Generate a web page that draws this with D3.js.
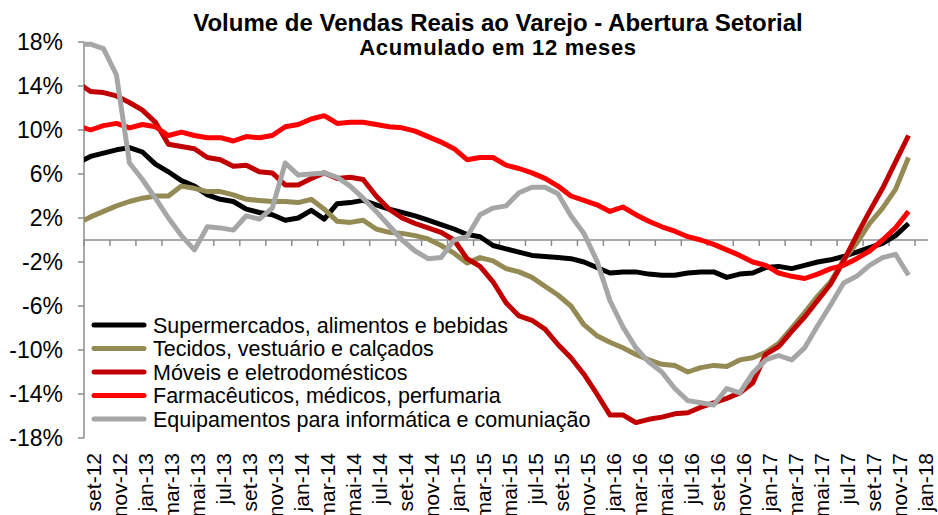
<!DOCTYPE html>
<html>
<head>
<meta charset="utf-8">
<script src="https://cdn.jsdelivr.net/npm/d3@7"></script>
<style>
  body { margin: 0; background: #fff; }
  text { font-family: "Liberation Sans", Arial, sans-serif; fill: #000; }
</style>
</head>
<body>
<div id="chart"></div>
<script>
// Months of the series: ago-12 sits just left of the axis (clipped), then set-12 .. dez-17
const months = [
    'ago-12', 'set-12', 'out-12', 'nov-12', 'dez-12',
    'jan-13', 'fev-13', 'mar-13', 'abr-13', 'mai-13', 'jun-13', 'jul-13', 'ago-13', 'set-13', 'out-13', 'nov-13', 'dez-13',
    'jan-14', 'fev-14', 'mar-14', 'abr-14', 'mai-14', 'jun-14', 'jul-14', 'ago-14', 'set-14', 'out-14', 'nov-14', 'dez-14',
    'jan-15', 'fev-15', 'mar-15', 'abr-15', 'mai-15', 'jun-15', 'jul-15', 'ago-15', 'set-15', 'out-15', 'nov-15', 'dez-15',
    'jan-16', 'fev-16', 'mar-16', 'abr-16', 'mai-16', 'jun-16', 'jul-16', 'ago-16', 'set-16', 'out-16', 'nov-16', 'dez-16',
    'jan-17', 'fev-17', 'mar-17', 'abr-17', 'mai-17', 'jun-17', 'jul-17', 'ago-17', 'set-17', 'out-17', 'nov-17', 'dez-17'
];

// Axis labels, one every two months (set-12 .. jan-18)
const tickLabels = [
    'set-12', 'nov-12', 'jan-13', 'mar-13', 'mai-13', 'jul-13', 'set-13', 'nov-13',
    'jan-14', 'mar-14', 'mai-14', 'jul-14', 'set-14', 'nov-14', 'jan-15', 'mar-15',
    'mai-15', 'jul-15', 'set-15', 'nov-15', 'jan-16', 'mar-16', 'mai-16', 'jul-16',
    'set-16', 'nov-16', 'jan-17', 'mar-17', 'mai-17', 'jul-17', 'set-17', 'nov-17', 'jan-18'
];

const yTicks = [18, 14, 10, 6, 2, -2, -6, -10, -14, -18];

// Series values, % accumulated in 12 months
const supermercados = [7.0, 7.6, 7.9, 8.2, 8.4, 8.0, 6.9, 6.2, 5.4, 4.9, 4.1, 3.7, 3.5, 2.8, 2.5, 2.3,
    1.8, 2.0, 2.7, 1.9, 3.3, 3.4, 3.6, 3.2, 2.8, 2.5, 2.2, 1.8, 1.4, 1.0, 0.5, 0.3, -0.5, -0.8, -1.1, -1.4,
    -1.5, -1.6, -1.7, -2.0, -2.5, -3.0, -2.9, -2.9, -3.1, -3.2, -3.2, -3.0, -2.9, -2.9, -3.4, -3.1, -3.0,
    -2.5, -2.4, -2.6, -2.3, -2.0, -1.8, -1.5, -1.1, -0.7, -0.3, 0.4, 1.5];

const tecidos = [1.5, 2.1, 2.6, 3.1, 3.5, 3.8, 4.0, 4.0, 4.9, 4.7, 4.4, 4.4, 4.1, 3.7, 3.6, 3.5, 3.5,
    3.4, 3.7, 2.8, 1.7, 1.6, 1.8, 1.0, 0.7, 0.6, 0.4, 0.1, -0.5, -1.2, -2.1, -1.6, -1.9, -2.6, -2.9, -3.4,
    -4.2, -5.0, -6.0, -7.7, -8.7, -9.3, -9.8, -10.4, -10.9, -11.3, -11.4, -12.0, -11.6, -11.4, -11.5, -10.9,
    -10.7, -10.2, -9.4, -8.0, -6.6, -5.1, -3.8, -1.8, -0.3, 1.5, 2.9, 4.6, 7.5];

const moveis = [14.3, 13.5, 13.4, 13.1, 12.5, 11.8, 10.7, 8.7, 8.5, 8.3, 7.5, 7.3, 6.7, 6.8, 6.2, 6.1,
    5.0, 5.0, 5.6, 6.1, 5.6, 5.7, 5.5, 4.0, 2.8, 2.0, 1.5, 1.1, 0.7, 0.0, -1.7, -2.4, -3.8, -5.7, -6.9,
    -7.3, -8.1, -9.5, -10.7, -12.2, -14.0, -15.9, -15.9, -16.6, -16.3, -16.1, -15.8, -15.7, -15.2, -14.8,
    -14.4, -13.9, -13.0, -10.4, -9.7, -8.3, -7.0, -5.5, -4.0, -1.9, 0.4, 2.6, 4.7, 7.1, 9.5];

const farmaceuticos = [10.4, 10.0, 10.4, 10.6, 10.2, 10.5, 10.3, 9.5, 9.8, 9.5, 9.3, 9.3, 9.0, 9.4, 9.3,
    9.5, 10.3, 10.5, 11.0, 11.3, 10.6, 10.7, 10.7, 10.5, 10.3, 10.2, 9.9, 9.4, 8.9, 8.3, 7.3, 7.5, 7.5,
    6.8, 6.5, 6.1, 5.6, 4.9, 4.0, 3.6, 3.2, 2.6, 3.0, 2.3, 1.7, 1.2, 0.8, 0.3, 0.0, -0.4, -0.9, -1.4,
    -2.0, -2.3, -3.0, -3.3, -3.5, -3.1, -2.6, -2.3, -1.7, -1.0, 0.0, 1.1, 2.6];

const equipamentos = [17.8, 17.8, 17.4, 15.0, 7.0, 5.5, 3.8, 2.0, 0.4, -0.9, 1.2, 1.1, 0.9, 2.2, 1.9,
    2.9, 7.0, 5.9, 6.0, 6.1, 5.7, 4.9, 3.8, 2.6, 1.3, 0.0, -1.0, -1.7, -1.6, 0.0, 0.3, 2.3, 2.9, 3.1, 4.3,
    4.8, 4.8, 4.2, 2.2, 0.6, -1.9, -5.5, -7.9, -9.8, -11.1, -12.0, -13.5, -14.6, -14.8, -15.0, -13.5,
    -13.9, -12.1, -10.9, -10.5, -10.9, -9.8, -7.8, -5.9, -3.9, -3.3, -2.3, -1.6, -1.3, -3.2];

const seriesNames = [
    'Supermercados, alimentos e bebidas',
    'Tecidos, vestuário e calçados',
    'Móveis e eletrodomésticos',
    'Farmacêuticos, médicos, perfumaria',
    'Equipamentos para informática e comuniação'
];
const seriesColors = ['#000000', '#948A54', '#C00000', '#FF0000', '#A6A6A6'];

function drawChart() {
    const width = 938;
    const height = 515;
    const left = 84, right = 928, top = 42, bottom = 438;

    const svg = d3.select('#chart').append('svg')
        .attr('width', width)
        .attr('height', height);

    // x: month index, set-12 = 0; each month is a band, points at band centres
    const x = d3.scaleLinear().domain([-0.5, 64.5]).range([left, right]);
    const y = d3.scaleLinear().domain([-18, 18]).range([bottom, top]);

    // Title
    svg.append('text')
        .attr('x', 498).attr('y', 31)
        .attr('text-anchor', 'middle')
        .style('font-size', '24px').style('font-weight', 'bold')
        .text('Volume de Vendas Reais ao Varejo - Abertura Setorial');
    svg.append('text')
        .attr('x', 498).attr('y', 55)
        .attr('text-anchor', 'middle')
        .style('font-size', '22px').style('font-weight', 'bold')
        .style('letter-spacing', '0.7px')
        .text('Acumulado em 12 meses');

    // Y axis
    const axisColor = '#8C8C8C';
    svg.append('line')
        .attr('x1', left).attr('x2', left)
        .attr('y1', y(18)).attr('y2', y(-18))
        .attr('stroke', axisColor).attr('stroke-width', 1.5);
    yTicks.forEach(function (t) {
        svg.append('line')
            .attr('x1', left - 6).attr('x2', left)
            .attr('y1', y(t)).attr('y2', y(t))
            .attr('stroke', axisColor).attr('stroke-width', 1.5);
        svg.append('text')
            .attr('x', 63).attr('y', y(t))
            .attr('dy', '0.36em')
            .attr('text-anchor', 'end')
            .style('font-size', '23px')
            .text(t + '%');
    });

    // X axis on the zero line, ticks every two months
    svg.append('line')
        .attr('x1', left).attr('x2', right)
        .attr('y1', y(0)).attr('y2', y(0))
        .attr('stroke', axisColor).attr('stroke-width', 1.5);
    tickLabels.forEach(function (label, j) {
        svg.append('line')
            .attr('x1', x(2 * j - 0.5)).attr('x2', x(2 * j - 0.5))
            .attr('y1', y(0)).attr('y2', y(0) + 6)
            .attr('stroke', axisColor).attr('stroke-width', 1.5);
        // labels run off the bottom edge, as in the original picture
        svg.append('text')
            .attr('transform', `translate(${x(2 * j) + 11},453) rotate(-90)`)
            .attr('text-anchor', 'end')
            .style('font-size', '21px')
            .text(label);
    });

    // Clip the lines to the plot area (ago-12 point lies left of the axis)
    svg.append('clipPath').attr('id', 'plot-clip')
        .append('rect')
        .attr('x', left).attr('y', 0)
        .attr('width', width - left).attr('height', height);

    const line = d3.line()
        .x(function (d, i) { return x(i - 1); })
        .y(function (d) { return y(d); });

    const allSeries = [supermercados, tecidos, moveis, farmaceuticos, equipamentos];
    const lines = svg.append('g').attr('clip-path', 'url(#plot-clip)');
    allSeries.forEach(function (values, s) {
        lines.append('path')
            .datum(values)
            .attr('d', line)
            .attr('fill', 'none')
            .attr('stroke', seriesColors[s])
            .attr('stroke-width', 5)
            .attr('stroke-linejoin', 'round');
    });

    // Legend
    const legendY = [325, 348.5, 372, 395.5, 419];
    seriesNames.forEach(function (name, s) {
        svg.append('line')
            .attr('x1', 94).attr('x2', 144)
            .attr('y1', legendY[s]).attr('y2', legendY[s])
            .attr('stroke', seriesColors[s])
            .attr('stroke-width', 5)
            .attr('stroke-linecap', 'round');
        svg.append('text')
            .attr('x', 153).attr('y', legendY[s])
            .attr('dy', '0.36em')
            .style('font-size', '21.5px')
            .text(name);
    });
}

drawChart();
</script>
</body>
</html>
